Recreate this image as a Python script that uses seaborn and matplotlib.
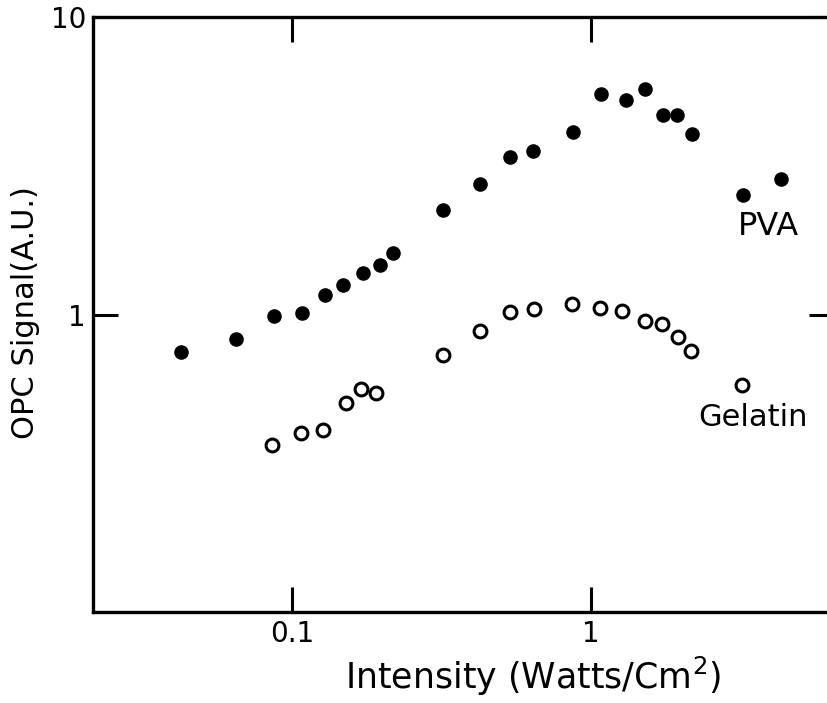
import matplotlib
matplotlib.use("Agg")
import matplotlib.pyplot as plt
import seaborn as sns
import pandas as pd

# PVA (filled circles)
pva_x = [0.0424, 0.0649, 0.0871, 0.108, 0.129, 0.148, 0.173, 0.197, 0.217,
         0.319, 0.424, 0.535, 0.639, 0.871, 1.081, 1.31, 1.518, 1.745, 1.944,
         2.18, 3.24, 4.34]
pva_y = [0.750, 0.830, 0.99, 1.008, 1.159, 1.253, 1.375, 1.464, 1.607,
         2.245, 2.75, 3.39, 3.55, 4.12, 5.49, 5.28, 5.71, 4.70, 4.70,
         4.03, 2.52, 2.86]

# Gelatin (open circles)
gel_x = [0.0857, 0.107, 0.127, 0.151, 0.170, 0.190, 0.319, 0.424, 0.535,
         0.644, 0.863, 1.072, 1.27, 1.518, 1.73, 1.96, 2.17, 3.21]
gel_y = [0.364, 0.399, 0.409, 0.504, 0.562, 0.545, 0.733, 0.883, 1.016,
         1.04, 1.081, 1.048, 1.03, 0.954, 0.932, 0.843, 0.756, 0.580]

x_ticks = [0.1, 1]
x_tick_labels = ["0.1", "1"]
y_ticks = [1, 10]
y_tick_labels = ["1", "10"]

sns.set_style("white")
plt.rcParams['font.family'] = ['DejaVu Sans']
plt.rcParams['text.color'] = 'black'
plt.rcParams['axes.labelcolor'] = 'black'
plt.rcParams['xtick.color'] = 'black'
plt.rcParams['ytick.color'] = 'black'

pva = pd.DataFrame({"x": pva_x, "y": pva_y})
gel = pd.DataFrame({"x": gel_x, "y": gel_y})

fig = plt.figure(figsize=(8.27, 7.03), dpi=100)
ax = fig.add_axes([93 / 827, 91 / 703, 741 / 827, 595 / 703])

sns.scatterplot(data=pva, x="x", y="y", ax=ax, color="black", s=110,
                edgecolor="black", linewidth=0, marker="o", legend=False)
sns.scatterplot(data=gel, x="x", y="y", ax=ax, facecolor="white", s=85,
                edgecolor="black", linewidth=2.2, marker="o", legend=False)

ax.set_xscale("log")
ax.set_yscale("log")
ax.set_xlim(0.02146, 6.54)
ax.set_ylim(0.1, 10)

ax.minorticks_off()
ax.set_xticks(x_ticks)
ax.set_xticklabels(x_tick_labels)
ax.set_yticks(y_ticks)
ax.set_yticklabels(y_tick_labels)

ax.tick_params(axis="x", which="major", direction="in", length=18, width=2.2,
               top=True, bottom=True, labeltop=False, labelsize=20, pad=6,
               colors="black")
ax.tick_params(axis="y", which="major", direction="in", length=18, width=2.2,
               left=True, right=True, labelright=False, labelsize=20, pad=5,
               colors="black")

for side in ["left", "bottom", "top", "right"]:
    ax.spines[side].set_linewidth(2.4)
    ax.spines[side].set_color("black")

ax.set_xlabel("Intensity (Watts/Cm$^2$)", fontsize=25, color="black")
ax.xaxis.label.set_verticalalignment("center")
ax.xaxis.set_label_coords(0.594, -0.1076)
ax.set_ylabel("OPC Signal(A.U.)", fontsize=22, color="black")
ax.yaxis.label.set_verticalalignment("center")
ax.yaxis.set_label_coords(-0.091, 0.504)

ax.text(3.95, 1.98, "PVA", fontsize=23, ha="center", va="center",
        color="black")
ax.text(3.50, 0.452, "Gelatin", fontsize=22, ha="center", va="center",
        color="black")

fig.savefig("out.png", dpi=100)
